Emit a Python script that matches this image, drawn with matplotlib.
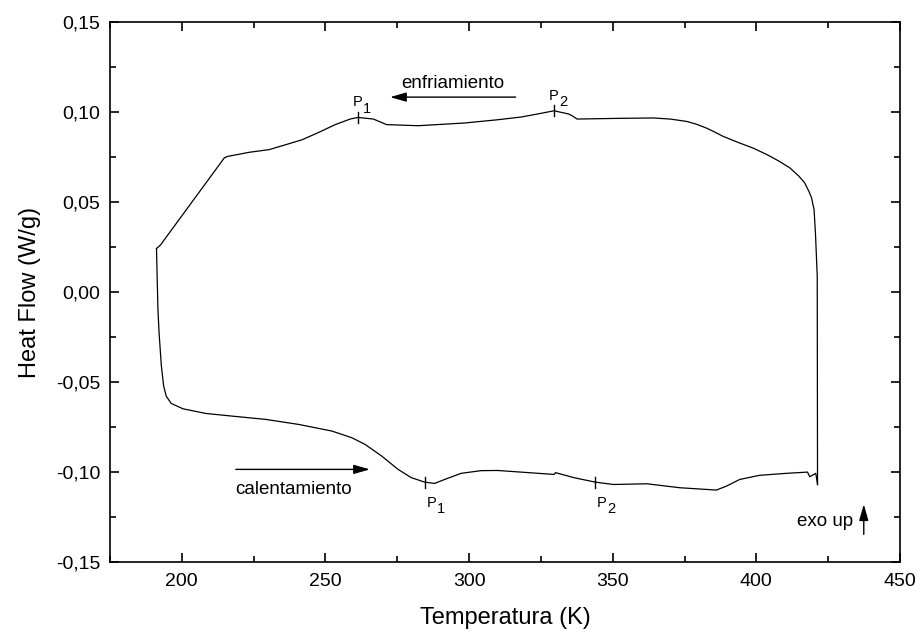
import numpy as np
import matplotlib.pyplot as plt
from matplotlib.ticker import MultipleLocator, FuncFormatter

plt.rcParams['font.family'] = ['Liberation Sans', 'DejaVu Sans']

# heating scan (lower branch), K and W/g
heat_T = [191.2, 191.7, 192.1, 192.9, 193.7, 194.6, 196.3, 200.4, 208.4, 217.7,
          229.2, 240.7, 252.3, 259.2, 263.8, 269.6, 275.3, 279.9, 284.6, 288.0,
          291.5, 297.2, 304.2, 309.9, 318.0, 329.6, 330.1, 336.5, 344.0, 350.3,
          361.9, 373.4, 386.1, 389.6, 394.2, 401.1, 410.4, 417.8, 418.6, 420.7,
          421.3]
heat_Q = [0.0242, -0.0097, -0.0227, -0.0412, -0.0523, -0.0579, -0.0619, -0.0649,
          -0.0675, -0.0690, -0.0708, -0.0736, -0.0773, -0.0810, -0.0847, -0.0912,
          -0.0986, -0.1032, -0.1057, -0.1064, -0.1042, -0.1008, -0.0993, -0.0992,
          -0.1001, -0.1014, -0.1004, -0.1032, -0.1057, -0.1070, -0.1066, -0.1088,
          -0.1101, -0.1079, -0.1042, -0.1019, -0.1008, -0.1001, -0.1027, -0.1008,
          -0.1070]

# cooling scan (upper branch), from hot end back to cold end
cool_T = [421.3, 421.2, 420.6, 420.1, 419.2, 418.3, 416.8, 414.9, 411.7, 408.0,
          403.5, 398.8, 393.5, 388.4, 385.5, 382.6, 379.0, 375.7, 370.0, 364.2,
          352.6, 337.6, 335.9, 334.7, 329.6, 323.8, 318.0, 309.9, 298.4, 282.3,
          271.3, 266.7, 261.3, 258.6, 253.4, 247.7, 241.9, 236.1, 230.4, 223.4,
          215.9, 214.8, 192.6, 191.2]
cool_Q = [-0.1070, 0.0088, 0.0320, 0.0458, 0.0525, 0.0560, 0.0608, 0.0643, 0.0690,
          0.0727, 0.0766, 0.0801, 0.0833, 0.0866, 0.0890, 0.0912, 0.0934, 0.0949,
          0.0962, 0.0968, 0.0966, 0.0962, 0.0980, 0.0990, 0.1008, 0.0990, 0.0973,
          0.0958, 0.0940, 0.0925, 0.0931, 0.0962, 0.0971, 0.0962, 0.0931, 0.0888,
          0.0847, 0.0819, 0.0792, 0.0777, 0.0754, 0.0746, 0.0262, 0.0242]

# peak positions
peaks_cool = [(261.3, 0.0971, '1'), (329.6, 0.1008, '2')]
peaks_heat = [(284.6, -0.1057, '1'), (344.0, -0.1057, '2')]


def peak_label(T, Q, num, up):
    ax.plot([T, T], [Q - 0.003, Q + 0.003], color='black', lw=1)
    if up:
        x, y, va = T - 1.8, Q + 0.0045, 'bottom'
    else:
        x, y, va = T + 0.5, Q - 0.0075, 'top'
    ax.annotate('P', xy=(x, y), fontsize=10.5, ha='left', va=va)
    ax.annotate(num, xy=(x, y), xytext=(7.5, -4.5), textcoords='offset points',
                fontsize=10.5, ha='left', va=va)


fig = plt.figure(figsize=(9.24, 6.37), dpi=100)
ax = fig.add_axes([0.119, 0.118, 0.855, 0.847])

ax.plot(heat_T, heat_Q, color='black', lw=0.9)
ax.plot(cool_T, cool_Q, color='black', lw=0.9)

for T, Q, n in peaks_cool:
    peak_label(T, Q, n, True)
for T, Q, n in peaks_heat:
    peak_label(T, Q, n, False)

arrow = dict(arrowstyle='-|>,head_length=0.7,head_width=0.2', color='black', lw=1,
             mutation_scale=14, shrinkA=0, shrinkB=0)
ax.annotate('', xy=(272.5, 0.1084), xytext=(316.2, 0.1084), arrowprops=arrow)
ax.text(294.5, 0.1112, 'enfriamiento', fontsize=13.5, ha='center', va='bottom')
ax.annotate('', xy=(265.5, -0.0986), xytext=(218.8, -0.0986), arrowprops=arrow)
ax.text(218.6, -0.1097, 'calentamiento', fontsize=13.5, ha='left', va='center')
ax.annotate('', xy=(437.4, -0.118), xytext=(437.4, -0.1347), arrowprops=arrow)
ax.text(414.3, -0.1273, 'exo up', fontsize=13.5, ha='left', va='center')

ax.set_xlim(175, 450)
ax.set_ylim(-0.15, 0.15)
ax.xaxis.set_major_locator(MultipleLocator(50))
ax.xaxis.set_minor_locator(MultipleLocator(25))
ax.yaxis.set_major_locator(MultipleLocator(0.05))
ax.yaxis.set_minor_locator(MultipleLocator(0.025))
ax.yaxis.set_major_formatter(FuncFormatter(lambda v, p: f'{v:.2f}'.replace('.', ',').replace('-0,00', '0,00')))
ax.tick_params(which='both', direction='in', top=True, right=True, labelsize=14, width=1.2)
ax.tick_params(which='major', length=6.5)
ax.tick_params(which='minor', length=4)
ax.tick_params(axis='y', pad=7)
ax.tick_params(axis='x', pad=8)
for s in ax.spines.values():
    s.set_linewidth(1.2)

ax.set_xlabel('Temperatura (K)', fontsize=17, labelpad=12)
ax.set_ylabel('Heat Flow (W/g)', fontsize=17, labelpad=11)

fig.savefig('out.png', dpi=100)
